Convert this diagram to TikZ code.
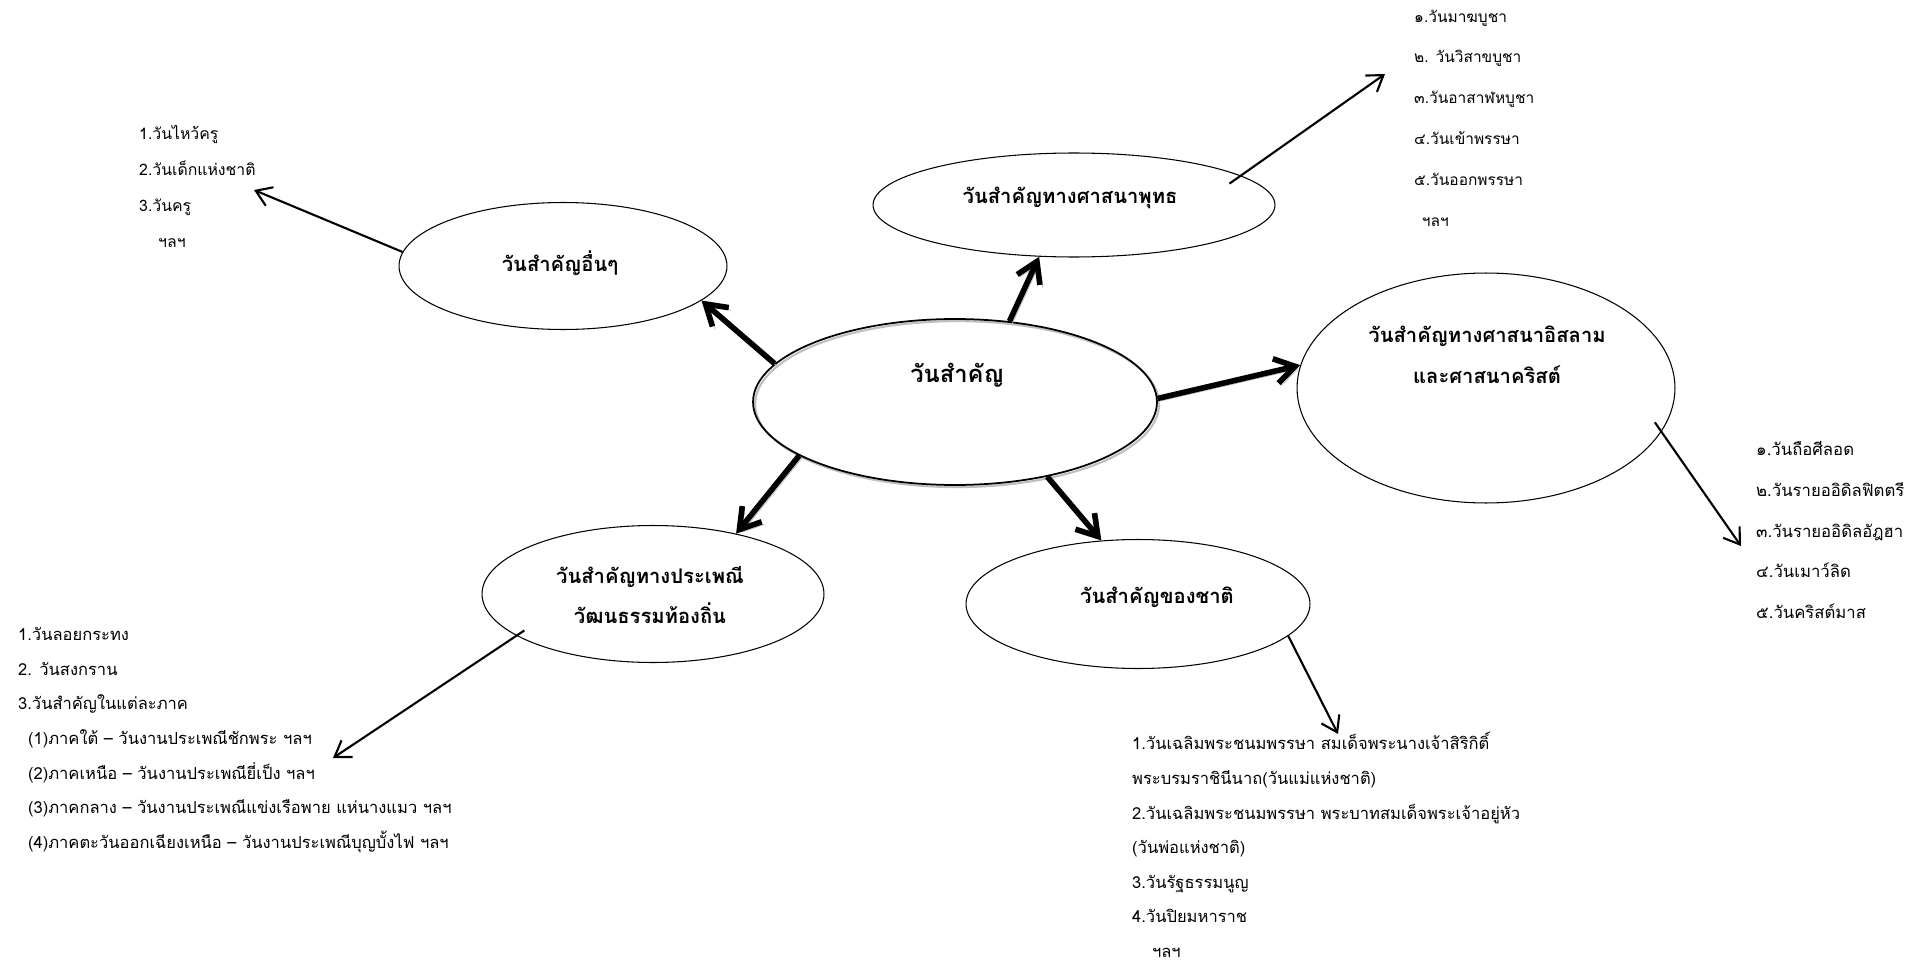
\documentclass[tikz,border=0pt]{standalone}
\usepackage{fontspec}
\setmainfont{Loma}[Script=Thai]
\usetikzlibrary{shapes.geometric}
\usetikzlibrary{arrows.meta}
\tikzset{% 
    blob/.style={ellipse,draw,line width=0.6pt,inner sep=0pt},
    hub/.style={blob,line width=1pt,preaction={draw=gray!50,line width=1.2pt,transform canvas={shift={(1.2pt,-1.2pt)}}}},
    ttl/.style={align=center,font=\fontsize{11.5}{23.2}\selectfont\bfseries},
    lst/.style={align=left,anchor=west,font=\fontsize{9.4}{19.7}\selectfont},
    fat/.style={line width=3.2pt,-{Straight Barb[length=4mm,width=5mm]},preaction={draw=gray!55,transform canvas={shift={(1.5pt,-1.5pt)}}}},
    lnk/.style={line width=1.2pt,-{Straight Barb[length=3mm,width=4mm]}}
}

\begin{document}
\begin{tikzpicture}[x=0.02cm,y=-0.02cm]
        \useasboundingbox (0,0) rectangle (1926,966);

        \node[hub,minimum width=8.08cm,minimum height=3.32cm] (main) at (955,402){};
        \node[blob,minimum width=6.56cm,minimum height=2.54cm] (oth) at (563,266){};
        \node[blob,minimum width=8.04cm,minimum height=2.08cm] (bud) at (1074,205){};
        \node[blob,minimum width=7.56cm,minimum height=4.6cm] (isl) at (1486,388){};
        \node[blob,minimum width=6.84cm,minimum height=2.74cm] (trad) at (653,594){};
        \node[blob,minimum width=6.88cm,minimum height=2.58cm] (nat) at (1138,604){};

        \node[ttl,font=\fontsize{13.5}{23.2}\selectfont\bfseries] (maint) at (957,375){วันสำคัญ};
        \node[ttl] (otht) at (560,263){วันสำคัญอื่นๆ};
        \node[ttl] (budt) at (1070,198){วันสำคัญทางศาสนาพุทธ};
        \node[ttl] (islt) at (1487,355){วันสำคัญทางศาสนาอิสลาม\\และศาสนาคริสต์};
        \node[ttl] (tradt) at (650,595){วันสำคัญทางประเพณี\\วัฒนธรรมท้องถิ่น};
        \node[ttl] (natt) at (1157,597){วันสำคัญของชาติ};

        \node[lst,font=\fontsize{9}{20.5}\selectfont] (othl) at (133,186){1.วันไหว้ครู\\2.วันเด็กแห่งชาติ\\3.วันครู\\\hspace{1.2em}ฯลฯ};
        \node[lst,font=\fontsize{8.8}{23.2}\selectfont] (budl) at (1408,118){๑.วันมาฆบูชา\\๒. วันวิสาขบูชา\\๓.วันอาสาฬหบูชา\\๔.วันเข้าพรรษา\\๕.วันออกพรรษา\\\hspace{0.5em}ฯลฯ};
        \node[lst,font=\fontsize{9.5}{23.2}\selectfont] (isll) at (1750,530){๑.วันถือศีลอด\\๒.วันรายออิดิลฟิตตรี\\๓.วันรายออิดิลอัฎฮา\\๔.วันเมาว์ลิด\\๕.วันคริสต์มาส};
        \node[lst] (tradl) at (12,740){1.วันลอยกระทง\\2. วันสงกราน\\3.วันสำคัญในแต่ละภาค\\\hspace{0.6em}(1)ภาคใต้ – วันงานประเพณีชักพระ ฯลฯ\\\hspace{0.6em}(2)ภาคเหนือ – วันงานประเพณียี่เป็ง ฯลฯ\\\hspace{0.6em}(3)ภาคกลาง – วันงานประเพณีแข่งเรือพาย แห่นางแมว ฯลฯ\\\hspace{0.6em}(4)ภาคตะวันออกเฉียงเหนือ – วันงานประเพณีบุญบั้งไฟ ฯลฯ};
        \node[lst] (natl) at (1126,845){1.วันเฉลิมพระชนมพรรษา สมเด็จพระนางเจ้าสิริกิติ์\\พระบรมราชินีนาถ(วันแม่แห่งชาติ)\\2.วันเฉลิมพระชนมพรรษา พระบาทสมเด็จพระเจ้าอยู่หัว\\(วันพ่อแห่งชาติ)\\3.วันรัฐธรรมนูญ\\4.วันปิยมหาราช\\\hspace{1.2em}ฯลฯ};

        \coordinate (othend) at (254,190);
        \coordinate (budend) at (1385,74);
        \coordinate (islend) at (1741,546);
        \coordinate (tradend) at (333,758);
        \coordinate (natend) at (1338,734);

        \draw[fat] (main.168) -- (oth.-14);
        \draw[fat] (main.56) -- (bud.-124);
        \draw[fat] (main.1) -- (isl.173);
        \draw[fat] (main.-161) -- (trad.36);
        \draw[fat] (main.-39) -- (nat.120);

        \draw[lnk] (oth.175) -- (othend);
        \draw[lnk,shorten <=-0.28cm] (bud.10) -- (budend);
        \draw[lnk,shorten <=-0.23cm] (isl.-14) -- (islend);
        \draw[lnk,shorten <=-0.19cm] (trad.197) -- (tradend);
        \draw[lnk] (nat.-12) -- (natend);
\end{tikzpicture}
\end{document}
